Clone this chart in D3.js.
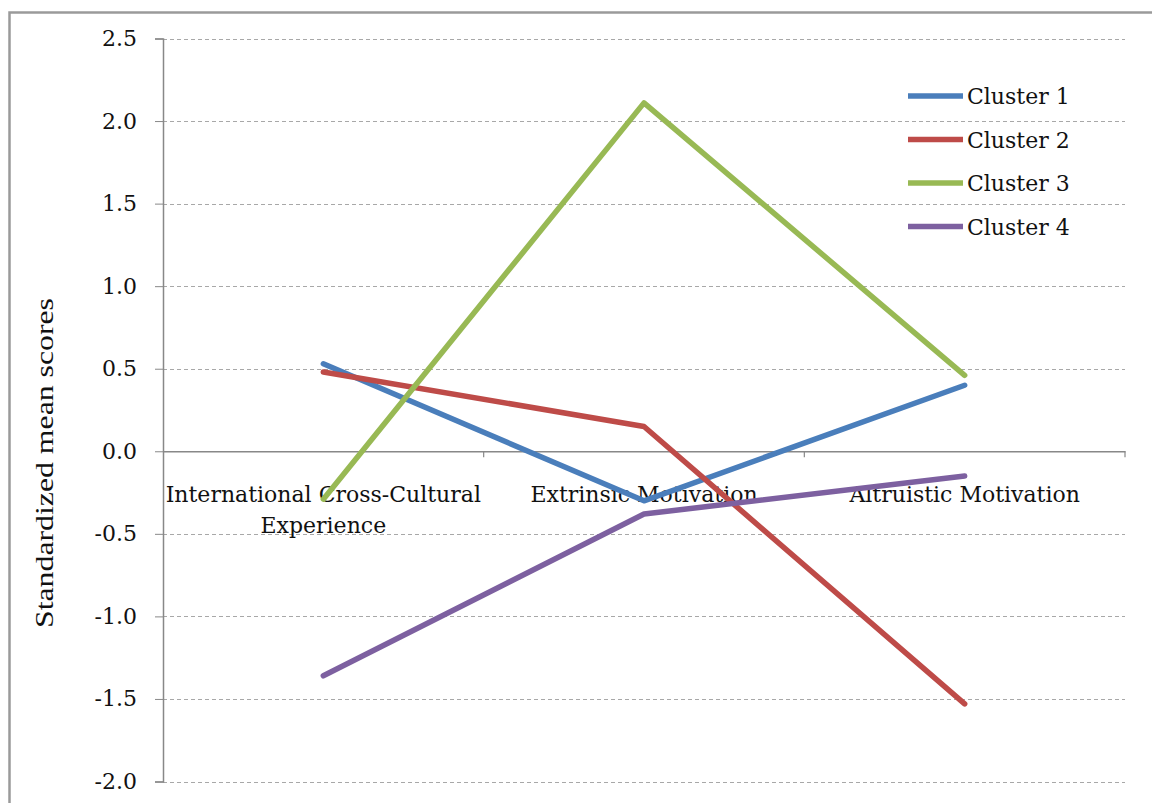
<!DOCTYPE html>
<html>
<head>
<meta charset="utf-8">
<script src="https://cdn.jsdelivr.net/npm/d3@7"></script>
<style>
  body { margin: 0; background: #fff; }
  svg { display: block; }
</style>
</head>
<body>
<div id="chart"></div>
<script>
// Data
const categories = ['International Cross-Cultural Experience', 'Extrinsic Motivation', 'Altruistic Motivation'];
const seriesNames = ['Cluster 1', 'Cluster 2', 'Cluster 3', 'Cluster 4'];
const cluster1 = [0.53, -0.30, 0.40];
const cluster2 = [0.48, 0.15, -1.53];
const cluster3 = [-0.29, 2.11, 0.46];
const cluster4 = [-1.36, -0.38, -0.15];
const yTicks = [-2.0, -1.5, -1.0, -0.5, 0.0, 0.5, 1.0, 1.5, 2.0, 2.5];
const colors = ['#4a7ebb', '#be4b48', '#98b954', '#7d60a0'];

const series = [cluster1, cluster2, cluster3, cluster4].map((values, i) => ({
  name: seriesNames[i], values, color: colors[i]
}));

const width = 1152;
const height = 803;
const plot = { left: 163, right: 1125, top: 38.5, bottom: 781.5 };
const labelFont = 'DejaVu Serif, Cambria, serif';
const titleFont = 'Liberation Serif, Times New Roman, serif';

const svg = d3.select('#chart')
  .append('svg')
  .attr('width', width)
  .attr('height', height);

// outer frame (cropped on right and bottom)
svg.append('rect')
  .attr('x', 9.5).attr('y', 12.5)
  .attr('width', 1200).attr('height', 900)
  .attr('fill', 'none')
  .attr('stroke', '#9a9a9a')
  .attr('stroke-width', 2.5);

const x = d3.scaleBand().domain(categories).range([plot.left, plot.right]);
const y = d3.scaleLinear().domain([-2, 2.5]).range([plot.bottom, plot.top]);

// gridlines
svg.append('g')
  .selectAll('line')
  .data(yTicks.filter(d => d !== 0))
  .enter()
  .append('line')
  .attr('x1', plot.left).attr('x2', plot.right)
  .attr('y1', d => Math.round(y(d)) + 0.5).attr('y2', d => Math.round(y(d)) + 0.5)
  .attr('stroke', '#a8a8a8')
  .attr('stroke-width', 1.2)
  .attr('stroke-dasharray', '4,3');

// y axis
const yAxis = svg.append('g')
  .attr('transform', `translate(${plot.left},0)`)
  .call(d3.axisLeft(y).tickValues(yTicks).tickSize(8).tickPadding(18));
yAxis.select('.domain').attr('stroke', '#888').attr('stroke-width', 1.5);
yAxis.selectAll('.tick line').attr('stroke', '#888');
yAxis.selectAll('.tick text')
  .attr('font-family', labelFont)
  .attr('font-size', 22)
  .attr('fill', '#111')
  .text(d => d3.format('.1f')(d).replace('−', '-'));

// x axis at zero
const xAxis = svg.append('g')
  .attr('transform', `translate(0,${y(0)})`)
  .call(d3.axisBottom(x).tickSize(0).tickFormat(''));
xAxis.select('.domain').attr('stroke', '#888').attr('stroke-width', 1.5);
xAxis.selectAll('.tick').remove();
xAxis.selectAll('.sep')
  .data(categories)
  .enter()
  .append('line')
  .attr('x1', d => x(d) + x.bandwidth())
  .attr('x2', d => x(d) + x.bandwidth())
  .attr('y1', 0).attr('y2', 6)
  .attr('stroke', '#888')
  .attr('stroke-width', 1.2);

// category labels
const catLines = {
  'International Cross-Cultural Experience': ['International Cross-Cultural', 'Experience']
};
const catLabels = svg.append('g')
  .selectAll('text')
  .data(categories)
  .enter()
  .append('text')
  .attr('x', d => x(d) + x.bandwidth() / 2)
  .attr('y', y(0) + 51)
  .attr('text-anchor', 'middle')
  .attr('font-family', labelFont)
  .attr('font-size', 22)
  .attr('fill', '#111');
catLabels.each(function (d) {
  const lines = catLines[d] || [d];
  d3.select(this).selectAll('tspan')
    .data(lines)
    .enter()
    .append('tspan')
    .attr('x', x(d) + x.bandwidth() / 2)
    .attr('dy', (l, i) => i === 0 ? 0 : 31)
    .text(l => l);
});

// lines
const line = d3.line()
  .x((d, i) => x(categories[i]) + x.bandwidth() / 2)
  .y(d => y(d));

svg.append('g')
  .selectAll('path')
  .data(series)
  .enter()
  .append('path')
  .attr('d', d => line(d.values))
  .attr('fill', 'none')
  .attr('stroke', d => d.color)
  .attr('stroke-width', 5.5)
  .attr('stroke-linejoin', 'round')
  .attr('stroke-linecap', 'round');

// y title
svg.append('text')
  .attr('transform', `translate(53,463) rotate(-90)`)
  .attr('text-anchor', 'middle')
  .attr('font-family', titleFont)
  .attr('font-size', 26)
  .attr('textLength', 330)
  .attr('lengthAdjust', 'spacingAndGlyphs')
  .attr('fill', '#111')
  .text('Standardized mean scores');

// legend
const legend = svg.append('g')
  .selectAll('g')
  .data(series)
  .enter()
  .append('g')
  .attr('transform', (d, i) => `translate(908,${96 + i * 43.5})`);
legend.append('line')
  .attr('x1', 0).attr('x2', 55)
  .attr('stroke', d => d.color)
  .attr('stroke-width', 5.5);
legend.append('text')
  .attr('x', 59).attr('y', 8)
  .attr('font-family', labelFont)
  .attr('font-size', 22)
  .attr('fill', '#111')
  .text(d => d.name);
</script>
</body>
</html>
